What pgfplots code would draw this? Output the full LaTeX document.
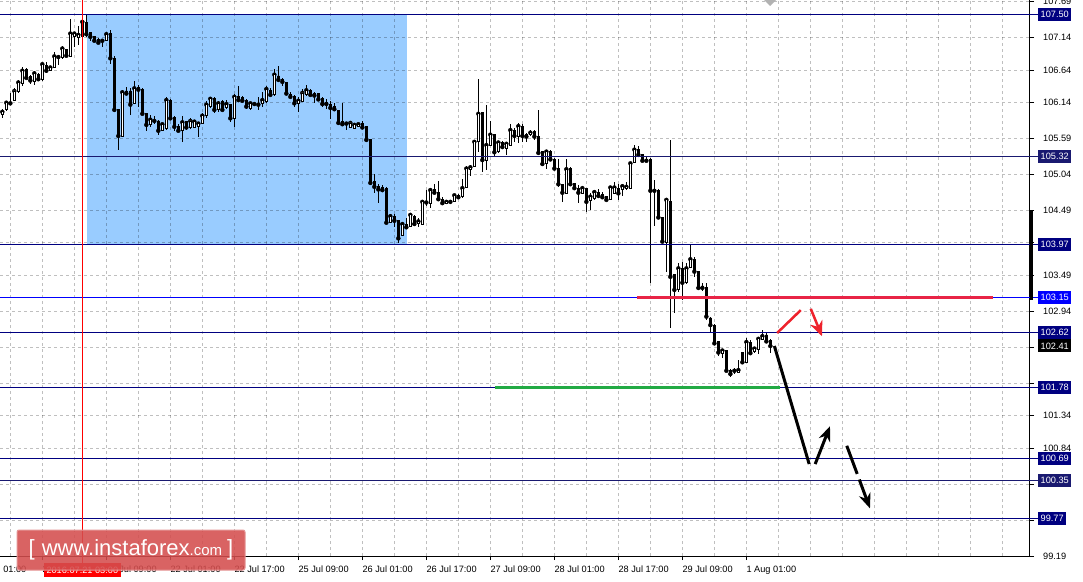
\documentclass[border=0pt]{standalone}
\usepackage{fontspec}
\setmainfont{Liberation Sans}
\usepackage{pgfplots}
\usepackage{pgfplotstable}
\pgfplotsset{compat=1.18}
\usetikzlibrary{arrows.meta}

\definecolor{zone}{RGB}{153,204,255}
\definecolor{navyln}{RGB}{0,0,128}
\definecolor{midnight}{RGB}{25,25,112}
\definecolor{blueln}{RGB}{0,0,255}
\definecolor{levred}{RGB}{232,36,70}
\definecolor{levgreen}{RGB}{34,170,68}
\definecolor{arrred}{RGB}{238,34,44}
\definecolor{wmred}{RGB}{212,78,78}

% H1 candles, k = bar index (4px per bar)
\pgfplotstableread{
k o h l c
0 105.96 106.04 105.90 106.00
1 106.03 106.17 106.01 106.14
2 106.14 106.29 106.12 106.13
3 106.17 106.36 106.16 106.32
4 106.31 106.49 106.29 106.45
5 106.44 106.69 106.39 106.63
6 106.65 106.67 106.51 106.52
7 106.54 106.57 106.43 106.48
8 106.46 106.62 106.41 106.59
9 106.58 106.60 106.48 106.50
10 106.50 106.75 106.48 106.73
11 106.71 106.77 106.59 106.63
12 106.64 106.69 106.63 106.68
13 106.68 106.92 106.67 106.85
14 106.85 106.86 106.72 106.84
15 106.84 107.01 106.81 106.97
16 106.96 106.97 106.85 106.86
17 106.85 107.42 106.84 107.20
18 107.15 107.23 107.00 107.20
19 107.14 107.32 107.03 107.18
20 107.15 107.41 107.14 107.38
21 107.37 107.50 107.15 107.19
22 107.22 107.23 107.08 107.15
23 107.16 107.17 107.07 107.09
24 107.11 107.13 107.04 107.06
25 107.10 107.11 107.00 107.09
26 107.09 107.23 107.08 107.19
27 107.20 107.26 106.73 106.82
28 106.82 106.85 106.00 106.03
29 106.03 106.05 105.41 105.63
30 105.63 106.34 105.62 106.30
31 106.32 106.38 106.26 106.28
32 106.32 106.36 105.95 106.11
33 106.13 106.47 106.12 106.36
34 106.38 106.41 106.08 106.34
35 106.35 106.36 105.95 105.97
36 105.97 105.98 105.70 105.80
37 105.80 105.95 105.77 105.88
38 105.87 105.93 105.81 105.86
39 105.86 105.88 105.65 105.71
40 105.71 105.82 105.70 105.81
41 105.75 106.22 105.72 106.18
42 106.17 106.19 105.88 105.90
43 105.91 105.93 105.70 105.77
44 105.77 105.82 105.70 105.71
45 105.71 105.93 105.54 105.84
46 105.85 105.86 105.72 105.76
47 105.76 105.90 105.74 105.86
48 105.76 105.88 105.75 105.85
49 105.77 105.85 105.62 105.82
50 105.83 105.98 105.81 105.94
51 105.94 106.16 105.90 106.11
52 106.08 106.23 106.06 106.20
53 106.21 106.23 105.98 106.03
54 106.03 106.16 106.00 106.13
55 106.16 106.18 106.01 106.03
56 106.07 106.18 106.05 106.12
57 106.11 106.12 105.85 105.90
58 105.90 106.27 105.76 106.23
59 106.24 106.40 106.16 106.18
60 106.22 106.24 106.15 106.17
61 106.18 106.20 106.05 106.08
62 106.05 106.15 106.03 106.13
63 106.12 106.15 106.10 106.12
64 106.12 106.23 106.03 106.11
65 106.13 106.31 106.08 106.18
66 106.16 106.39 106.14 106.35
67 106.33 106.36 106.24 106.26
68 106.26 106.65 106.25 106.57
69 106.55 106.70 106.46 106.49
70 106.50 106.52 106.40 106.46
71 106.45 106.46 106.27 106.28
72 106.27 106.31 106.22 106.23
73 106.24 106.26 106.08 106.13
74 106.13 106.23 105.99 106.17
75 106.16 106.35 106.15 106.29
76 106.26 106.41 106.25 106.33
77 106.33 106.35 106.24 106.26
78 106.28 106.30 106.13 106.25
79 106.28 106.29 106.17 106.19
80 106.21 106.22 106.07 106.12
81 106.14 106.19 106.04 106.12
82 106.12 106.16 105.89 106.06
83 106.08 106.14 106.02 106.04
84 106.02 106.03 105.82 105.83
85 105.85 106.14 105.80 105.81
86 105.83 105.85 105.72 105.82
87 105.76 105.85 105.75 105.83
88 105.75 105.81 105.74 105.80
89 105.77 105.82 105.76 105.81
90 105.82 105.86 105.75 105.76
91 105.78 105.79 105.54 105.57
92 105.58 105.59 104.88 104.91
93 104.93 105.04 104.75 104.85
94 104.86 104.89 104.61 104.81
95 104.84 104.88 104.78 104.80
96 104.83 104.84 104.29 104.30
97 104.30 104.43 104.29 104.40
98 104.40 104.43 104.24 104.33
99 104.33 104.34 103.99 104.06
100 104.10 104.30 104.09 104.28
101 104.28 104.37 104.21 104.23
102 104.24 104.44 104.23 104.42
103 104.40 104.42 104.27 104.28
104 104.29 104.37 104.24 104.32
105 104.28 104.64 104.27 104.62
106 104.62 104.80 104.55 104.61
107 104.60 104.83 104.53 104.80
108 104.81 104.89 104.75 104.76
109 104.76 104.94 104.65 104.66
110 104.66 104.70 104.58 104.60
111 104.60 104.65 104.58 104.62
112 104.62 104.65 104.59 104.62
113 104.62 104.74 104.61 104.72
114 104.72 104.74 104.67 104.69
115 104.70 104.97 104.68 104.83
116 104.84 105.17 104.83 105.13
117 105.12 105.19 105.01 105.15
118 105.16 105.56 105.15 105.54
119 105.54 106.50 105.39 105.97
120 105.99 106.00 105.08 105.26
121 105.26 106.11 105.11 105.49
122 105.49 105.86 105.48 105.65
123 105.65 105.66 105.31 105.38
124 105.39 105.55 105.37 105.53
125 105.53 105.56 105.44 105.46
126 105.44 105.54 105.34 105.51
127 105.49 105.81 105.48 105.72
128 105.72 105.75 105.53 105.63
129 105.63 105.83 105.52 105.78
130 105.77 105.81 105.53 105.63
131 105.65 105.67 105.54 105.62
132 105.65 105.72 105.63 105.68
133 105.70 105.72 105.57 105.62
134 105.62 106.03 105.34 105.37
135 105.39 105.40 105.18 105.20
136 105.21 105.42 105.13 105.39
137 105.39 105.41 105.26 105.27
138 105.27 105.29 105.12 105.13
139 105.13 105.27 104.85 104.89
140 104.89 104.90 104.62 104.76
141 104.75 105.27 104.74 105.12
142 105.13 105.15 104.88 104.89
143 104.90 104.91 104.81 104.83
144 104.83 104.88 104.60 104.76
145 104.75 104.86 104.74 104.83
146 104.83 104.84 104.47 104.62
147 104.64 104.75 104.50 104.70
148 104.67 104.80 104.65 104.77
149 104.77 104.81 104.70 104.71
150 104.74 104.77 104.67 104.69
151 104.70 104.71 104.63 104.65
152 104.66 104.85 104.65 104.84
153 104.75 104.93 104.74 104.84
154 104.83 104.90 104.65 104.75
155 104.81 104.89 104.71 104.86
156 104.83 104.93 104.80 104.85
157 104.83 105.22 104.81 105.21
158 105.22 105.49 105.21 105.42
159 105.43 105.48 105.32 105.34
160 105.34 105.36 105.24 105.25
161 105.27 105.32 105.24 105.25
162 105.27 105.29 103.38 104.79
163 104.81 104.96 104.25 104.79
164 104.80 104.81 104.37 104.38
165 104.38 104.39 103.99 104.01
166 104.00 104.68 103.55 104.65
167 104.63 105.57 102.69 103.47
168 103.50 103.52 102.91 103.27
169 103.27 103.69 103.24 103.60
170 103.60 103.70 103.12 103.38
171 103.38 103.68 103.36 103.60
172 103.62 103.96 103.60 103.74
173 103.73 103.78 103.47 103.55
174 103.55 103.56 103.29 103.30
175 103.33 103.38 103.26 103.30
176 103.31 103.38 102.81 102.86
177 102.84 102.86 102.61 102.73
178 102.73 102.75 102.44 102.45
179 102.48 102.49 102.25 102.31
180 102.30 102.36 102.22 102.34
181 102.34 102.35 102.01 102.03
182 102.04 102.05 101.94 101.98
183 102.02 102.08 101.98 102.03
184 102.01 102.20 102.00 102.04
185 102.31 102.32 102.15 102.16
186 102.16 102.53 102.15 102.47
187 102.47 102.50 102.29 102.30
188 102.32 102.40 102.31 102.37
189 102.36 102.54 102.29 102.52
190 102.51 102.66 102.50 102.56
191 102.58 102.61 102.45 102.48
192 102.50 102.51 102.31 102.41
}\candles

\pgfplotsset{
  chartbase/.style={
    at={(0pt,25pt)}, anchor=south west,
    scale only axis, width=1030pt, height=556pt,
    xmin=-0.58, xmax=256.9, ymin=99.19, ymax=107.715,
    enlargelimits=false,
  },
}
\newcommand\lab{\fontsize{9.2}{10}\selectfont}

\begin{document}
\begin{tikzpicture}
\useasboundingbox (0,0) rectangle (1083pt,581pt);
\fill[white] (0,0) rectangle (1083pt,581pt);

% zone rectangle (behind the grid)
\begin{axis}[chartbase, hide axis]
\addplot[fill=zone, draw=none] coordinates {(21.2,103.97) (21.2,107.50) (101.1,107.50) (101.1,103.97)} -- cycle;
\end{axis}

% grid, ticks and wicks
\begin{axis}[chartbase,
  axis x line*=bottom, axis y line*=right,
  axis line style={black, line width=1pt},
  xtick={10,26,...,186},
  xticklabels={20 Jul 17:00,21 Jul 09:00,22 Jul 01:00,22 Jul 17:00,25 Jul 09:00,26 Jul 01:00,26 Jul 17:00,27 Jul 09:00,28 Jul 01:00,28 Jul 17:00,29 Jul 09:00,1 Aug 01:00},
  minor xtick={2,10,...,250},
  xmajorgrids=false, xminorgrids=true,
  ytick={107.69,107.14,106.64,106.14,105.59,105.04,104.49,103.99,103.49,102.94,102.39,101.84,101.34,100.84,100.29,99.74,99.19},
  yticklabels={107.69,107.14,106.64,106.14,105.59,105.04,104.49,,103.49,102.94,,,101.34,100.84,,,99.19},
  ymajorgrids=true,
  major grid style={black, opacity=0.25, line width=1pt, dash pattern=on 3pt off 3pt},
  minor grid style={black, opacity=0.25, line width=1pt, dash pattern=on 3pt off 3pt},
  tick align=outside, major tick length=4pt, minor tick length=0pt,
  tick style={black, line width=1pt},
  xticklabel style={font=\lab, anchor=north west, inner sep=0pt, yshift=-6pt},
  yticklabel style={font=\lab, anchor=west, inner sep=0pt, xshift=9pt},
]
\addplot[only marks, mark=none,
  error bars/.cd, y dir=both, y explicit, error mark=none,
  error bar style={black, line width=1pt, solid}]
  table[x=k, y=c, y error plus expr=\thisrow{h}-\thisrow{c}, y error minus expr=\thisrow{c}-\thisrow{l}] {\candles};
\end{axis}

% candle bodies
\begin{axis}[chartbase, hide axis, ybar stacked, bar width=0.6]
\addplot[draw=none, fill=none] table[x=k, y expr={min(\thisrow{o},\thisrow{c})}] {\candles};
\addplot[fill=white, draw=black, line width=0.8pt] table[x=k, y expr={max(\thisrow{c}-\thisrow{o},0)}] {\candles};
\addplot[fill=black, draw=black, line width=0.8pt] table[x=k, y expr={max(\thisrow{o}-\thisrow{c},0)}] {\candles};
\end{axis}

% levels, arrows and price labels
\begin{axis}[chartbase, hide axis, clip=false]
\addplot[navyln, line width=1pt] coordinates {(-0.58,107.50) (258.9,107.50)};
\addplot[midnight, line width=1pt] coordinates {(-0.58,105.32) (258.9,105.32)};
\addplot[navyln, line width=1pt] coordinates {(-0.58,103.97) (258.9,103.97)};
\addplot[blueln, line width=1pt] coordinates {(-0.58,103.15) (258.9,103.15)};
\addplot[navyln, line width=1pt] coordinates {(-0.58,102.62) (258.9,102.62)};
\addplot[navyln, line width=1pt] coordinates {(-0.58,101.78) (258.9,101.78)};
\addplot[navyln, line width=1pt] coordinates {(-0.58,100.69) (258.9,100.69)};
\addplot[midnight, line width=1pt] coordinates {(-0.58,100.35) (258.9,100.35)};
\addplot[navyln, line width=1pt] coordinates {(-0.58,99.77) (258.9,99.77)};
% crosshair
\addplot[red, line width=1.3pt] coordinates {(20,107.715) (20,99.07)};
% resistance / support
\addplot[levred, line width=3pt] coordinates {(158.7,103.16) (247.7,103.16)};
\addplot[levgreen, line width=3pt] coordinates {(123.2,101.775) (194.4,101.775)};
% scenario arrows
\addplot[arrred, line width=2.5pt] coordinates {(193.7,102.61) (199.6,102.96)};
\addplot[arrred, line width=2.5pt, -{Stealth[length=15pt,width=13pt]}] coordinates {(202.1,102.98) (204.9,102.56)};
\addplot[black, line width=3pt] coordinates {(193.0,102.41) (201.7,100.60)};
\addplot[black, line width=3pt, -{Stealth[length=15pt,width=12pt]}] coordinates {(203.2,100.60) (206.9,101.18)};
\addplot[black, line width=3pt, dash pattern=on 30pt off 6pt, -{Stealth[length=15pt,width=12pt]}] coordinates {(211.1,100.88) (216.9,99.92)};
% price boxes
\begin{scope}[every node/.style={font=\lab, text=white, anchor=west, inner xsep=2.5pt, inner ysep=1pt, minimum height=13pt}]
\node[fill=navyln] at (axis cs:258.9,107.50) {107.50};
\node[fill=midnight] at (axis cs:258.9,105.32) {105.32};
\node[fill=navyln] at (axis cs:258.9,103.97) {103.97};
\node[fill=blueln] at (axis cs:258.9,103.15) {103.15};
\node[fill=navyln] at (axis cs:258.9,102.62) {102.62};
\node[fill=black] at (axis cs:258.9,102.41) {102.41};
\node[fill=navyln] at (axis cs:258.9,101.78) {101.78};
\node[fill=navyln] at (axis cs:258.9,100.69) {100.69};
\node[fill=midnight] at (axis cs:258.9,100.35) {100.35};
\node[fill=navyln] at (axis cs:258.9,99.77) {99.77};
\end{scope}
\node[font=\lab, fill=red, text=white, anchor=north, inner xsep=3pt, inner ysep=1pt, minimum height=14pt] at (axis cs:20,99.19) [yshift=-7pt] {2016.07.21 03:00};
\end{axis}

% partly hidden first time label
\node[font=\lab, anchor=north west, inner sep=0pt] at (-24pt,15pt) {20 Jul 01:00};
% scroll marker and shift marker
\fill[black] (1029.5pt,281pt) rectangle (1033pt,371pt);
\fill[black!30] (764pt,581pt) -- (776pt,581pt) -- (770pt,575pt) -- cycle;

% watermark
\draw[wmred!60!white, fill=wmred, fill opacity=0.88, rounded corners=2pt, line width=1pt] (17pt,11pt) rectangle (245pt,51pt);
\node[text=white, anchor=center, inner sep=0pt] at (131pt,31pt)
  {\fontsize{22}{22}\selectfont [\hspace{7pt}www.instaforex{\fontsize{15}{15}\selectfont .com}\hspace{5pt}]};
\end{tikzpicture}
\end{document}
